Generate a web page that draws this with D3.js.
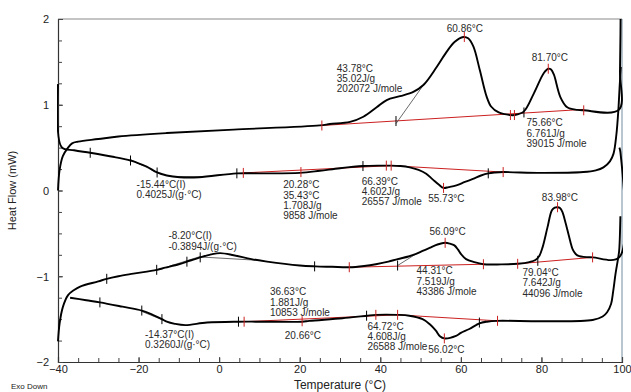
<!DOCTYPE html>
<html>
<head>
<meta charset="utf-8">
<script src="https://cdn.jsdelivr.net/npm/d3@7"></script>
<style>
  body { margin: 0; background: #fff; }
  svg text { font-family: Arial, "Liberation Sans", sans-serif; fill: #222; }
</style>
</head>
<body>
<svg id="chart" width="631" height="392"></svg>
<script>
// heating 1  [temperature, heat flow]
const heat1 = [
  [-40, 0], [-39.6, 0.24], [-38.8, 0.4], [-37.5, 0.5], [-36.5, 0.55], [-35, 0.57],
  [-30, 0.6], [-25, 0.63], [-13, 0.67], [3.6, 0.71], [25, 0.76], [27.5, 0.775],
  [32.5, 0.8], [35.8, 0.86], [39.1, 0.97], [41.6, 1.055], [44.9, 1.1], [48.2, 1.15],
  [50.7, 1.23], [54, 1.44], [56.5, 1.62], [58.5, 1.735], [60.6, 1.79], [61.8, 1.775],
  [63.1, 1.68], [64.7, 1.405], [66.4, 1.095], [67.5, 0.98], [69.4, 0.91], [72.3, 0.88],
  [73.3, 0.88], [75.6, 0.92], [78.1, 1.13], [80.6, 1.37], [81.7, 1.42], [82.4, 1.41],
  [83.1, 1.35], [84.7, 1.09], [86.4, 0.97], [88.9, 0.94], [90.5, 0.935], [99.2, 0.94],
  [99.5, 1.4], [99.7, 2.3]
];
// cooling 1
const cool1 = [
  [99.7, 1.44], [99.4, 1.2], [99.1, 0.94], [98.6, 0.65], [97.9, 0.43], [97, 0.34],
  [95.4, 0.27], [93.5, 0.235], [90.4, 0.215], [80, 0.205], [70.5, 0.215], [68.5, 0.21],
  [66.8, 0.2], [65, 0.175], [63, 0.135], [61, 0.1], [58.9, 0.06], [57, 0.04],
  [55.7, 0.03], [54.5, 0.07], [53, 0.13], [51.4, 0.195], [49.5, 0.24], [47.3, 0.27],
  [45, 0.285], [42.7, 0.29], [40, 0.29], [35.7, 0.285], [30, 0.26], [25, 0.23],
  [20, 0.205], [10, 0.2], [4.4, 0.2], [-5, 0.155], [-9.8, 0.155], [-13, 0.175],
  [-15.4, 0.21], [-18, 0.28], [-20.7, 0.33], [-22, 0.35], [-26, 0.39], [-32, 0.44],
  [-36, 0.47], [-39.1, 0.505], [-40, 1.24]
];
// heating 2
const heat2 = [
  [-40, -1.76], [-39.6, -1.55], [-38.8, -1.36], [-37.5, -1.22], [-36, -1.16],
  [-34.5, -1.12], [-30, -1.06], [-27.9, -1.03], [-25, -1.0], [-21.3, -0.97],
  [-15.5, -0.925], [-13.4, -0.9], [-10, -0.86], [-8, -0.83], [-4.7, -0.78],
  [-2, -0.745], [0.25, -0.73], [3.6, -0.755], [8, -0.8], [11.9, -0.83], [20, -0.875],
  [23.9, -0.885], [28, -0.89], [32.3, -0.895], [36, -0.88], [38.9, -0.86], [42, -0.83],
  [44.3, -0.8], [47, -0.77], [48.9, -0.74], [50.5, -0.705], [52.2, -0.67], [54.2, -0.63],
  [56.1, -0.61], [57.3, -0.62], [58.4, -0.64], [59.3, -0.69], [60, -0.74], [61.3, -0.8],
  [63.3, -0.835], [65.6, -0.86], [70, -0.862], [74.1, -0.855], [77, -0.835],
  [78.5, -0.81], [79.5, -0.76], [80.3, -0.66], [81.5, -0.43], [82.6, -0.23],
  [83.3, -0.2], [84, -0.195], [84.6, -0.205], [85.2, -0.25], [86, -0.38], [86.5, -0.47],
  [87.2, -0.6], [87.7, -0.68], [88.5, -0.74], [89.4, -0.765], [92.7, -0.78],
  [99.3, -0.78], [99.6, 0.45], [99.35, 0.5]
];
// cooling 2
const cool2 = [
  [99.6, -0.3], [99.3, -0.7], [99, -0.8], [98.4, -0.97], [97.8, -1.18], [97.3, -1.32],
  [96.3, -1.42], [95.2, -1.47], [92.7, -1.51], [80.3, -1.525], [69.1, -1.52],
  [66.5, -1.53], [64.6, -1.55], [62.1, -1.615], [60, -1.66], [58.8, -1.695],
  [55.9, -1.725], [54.8, -1.7], [53.8, -1.635], [52.3, -1.56], [50.5, -1.5],
  [47.2, -1.46], [44.3, -1.45], [38.9, -1.45], [36.6, -1.46], [30.6, -1.49],
  [22.4, -1.52], [20.6, -1.53], [10, -1.53], [4.8, -1.53], [-3, -1.54], [-8.4, -1.57],
  [-11, -1.555], [-13, -1.53], [-14.2, -1.5], [-16.5, -1.45], [-19.2, -1.4],
  [-24, -1.355], [-29.6, -1.305], [-33, -1.28], [-37, -1.25]
];
const curves = [heat1, cool1, heat2, cool2];

// integration baselines (red)
const baselines = [
  [[25.5, 0.758], [90.5, 0.946]],
  [[6, 0.205], [42.7, 0.29]],
  [[42.7, 0.29], [70.5, 0.215]],
  [[32.3, -0.895], [65.6, -0.86]],
  [[74.1, -0.855], [92.7, -0.78]],
  [[6.2, -1.53], [44.3, -1.45]],
  [[44.3, -1.45], [69.1, -1.52]]
];
// thin construction lines (onset tangents)
const tangents = [
  [[43.9, 0.78], [50.7, 1.23]],
  [[-22, 0.36], [-14.5, 0.19]],
  [[-12.5, 0.165], [-4, 0.16]],
  [[-15.5, -0.93], [-4.7, -0.77]],
  [[-4.7, -0.775], [10, -0.815]],
  [[44.3, -0.875], [48.7, -0.745]],
  [[-19.2, -1.41], [-14, -1.51]],
  [[63.8, -1.56], [66.2, -1.52]]
];
// small vertical markers on curves: [temperature, value, red?]
const markers = [
  [25.5, 0.758, 1], [43.9, 0.81, 0], [60.86, 1.79, 1], [72.3, 0.88, 1], [73.3, 0.88, 1],
  [75.66, 0.91, 0], [81.7, 1.42, 1], [90.5, 0.935, 1],
  [-32, 0.44, 0], [-22, 0.35, 0], [-15.4, 0.21, 0], [4.4, 0.2, 0], [6, 0.205, 1],
  [20.3, 0.215, 1], [35.7, 0.285, 0], [41.5, 0.29, 1], [42.7, 0.29, 1], [55.7, 0.03, 1],
  [66.8, 0.2, 0], [70.5, 0.215, 1],
  [-27.9, -1.03, 0], [-15.5, -0.925, 0], [-8, -0.83, 0], [-4.7, -0.78, 0],
  [23.7, -0.885, 0], [32.3, -0.895, 1], [44.3, -0.875, 0], [56.1, -0.61, 1],
  [65.6, -0.86, 1], [74.1, -0.855, 1], [79.1, -0.82, 0], [84, -0.195, 1], [92.7, -0.78, 1],
  [-29.6, -1.305, 0], [-19.2, -1.4, 0], [-14.2, -1.5, 0], [4.8, -1.53, 0],
  [6.2, -1.53, 1], [20.6, -1.525, 1], [36.6, -1.46, 0], [38.9, -1.45, 1],
  [44.3, -1.45, 1], [55.9, -1.725, 1], [64.6, -1.54, 0], [69.1, -1.52, 1]
];
// annotation blocks: [temperature, top value, lines, anchor]
const notes = [
  [61.0, 1.936, ['60.86°C'], 'middle'],
  [29.2, 1.478, ['43.78°C', '35.02J/g', '202072 J/mole']],
  [82.1, 1.60, ['81.70°C'], 'middle'],
  [76.3, 0.843, ['75.66°C', '6.761J/g', '39015 J/mole']],
  [-20.5, 0.125, ['-15.44°C(I)', '0.4025J/(g·°C)']],
  [15.9, 0.117, ['20.28°C', '35.43°C', '1.708J/g', '9858 J/mole']],
  [35.4, 0.163, ['66.39°C', '4.602J/g', '26557 J/mole']],
  [51.9, -0.038, ['55.73°C']],
  [-12.6, -0.475, ['-8.20°C(I)', '-0.3894J/(g·°C)']],
  [52.2, -0.428, ['56.09°C']],
  [80.1, -0.027, ['83.98°C']],
  [49.0, -0.886, ['44.31°C', '7.519J/g', '43386 J/mole']],
  [75.3, -0.906, ['79.04°C', '7.642J/g', '44096 J/mole']],
  [12.6, -1.128, ['36.63°C', '1.881J/g', '10853 J/mole']],
  [-18.4, -1.621, ['-14.37°C(I)', '0.3260J/(g·°C)']],
  [16.3, -1.644, ['20.66°C']],
  [36.8, -1.528, ['64.72°C', '4.608J/g', '26588 J/mole']],
  [51.9, -1.796, ['56.02°C']]
];
const xMajor = [-40, -20, 0, 20, 40, 60, 80, 100];
const yMajor = [-2, -1, 0, 1, 2];

const svg = d3.select('#chart');
const margin = { top: 19, right: 9, bottom: 30, left: 58 };
const width = 631, height = 392;

const x = d3.scaleLinear().domain([-40, 100]).range([margin.left, width - margin.right]);
const y = d3.scaleLinear().domain([-2, 2]).range([height - margin.bottom, margin.top]);

svg.append('defs').append('clipPath').attr('id', 'plot-clip')
  .append('rect')
  .attr('x', x(-40) - 1).attr('y', y(2))
  .attr('width', x(100) - x(-40) + 2).attr('height', y(-2) - y(2));

// frame: top and right in gray
svg.append('line')
  .attr('x1', x(-40)).attr('x2', x(100)).attr('y1', y(2)).attr('y2', y(2))
  .style('stroke', '#8a8a8a').style('stroke-width', 1.2);
svg.append('line')
  .attr('x1', x(100)).attr('x2', x(100)).attr('y1', y(2)).attr('y2', y(-2))
  .style('stroke', '#8aa0b0').style('stroke-width', 1.2);

// axes, ticks pointing inward
svg.append('g')
  .attr('transform', `translate(0,${y(-2)})`)
  .call(d3.axisBottom(x).tickValues(xMajor).tickSize(-5).tickPadding(3).tickFormat(d3.format('d')));
svg.append('g')
  .attr('transform', `translate(0,${y(-2)})`)
  .call(d3.axisBottom(x).tickValues(d3.range(-40, 101, 5)).tickSize(-4).tickFormat(''))
  .select('.domain').remove();

const yAxis = svg.append('g')
  .attr('transform', `translate(${x(-40)},0)`)
  .call(d3.axisLeft(y).tickValues(yMajor).tickSize(-5).tickPadding(9).tickFormat(d3.format('d')));
svg.append('g')
  .attr('transform', `translate(${x(-40)},0)`)
  .call(d3.axisLeft(y).tickValues(d3.range(-2, 2.01, 0.25)).tickSize(-4).tickFormat(''))
  .select('.domain').remove();

svg.selectAll('.domain').style('stroke', '#333').style('stroke-width', 1.2);
svg.selectAll('.tick line').style('stroke', '#444');
svg.selectAll('.tick text').style('font-size', '11px').style('fill', '#222');
yAxis.selectAll('.tick text').attr('dy', '0.35em');

// labels
svg.append('text')
  .attr('transform', `translate(16,${(y(2) + y(-2)) / 2}) rotate(-90)`)
  .attr('text-anchor', 'middle')
  .style('font-size', '11px')
  .text('Heat Flow (mW)');
svg.append('text')
  .attr('x', (x(-40) + x(100)) / 2).attr('y', 389)
  .attr('text-anchor', 'middle')
  .style('font-size', '12px')
  .text('Temperature (°C)');
svg.append('text')
  .attr('x', 11).attr('y', 389)
  .style('font-size', '8px')
  .text('Exo Down');

const plot = svg.append('g').attr('clip-path', 'url(#plot-clip)');

const line = d3.line()
  .x(d => x(d[0]))
  .y(d => y(d[1]))
  .curve(d3.curveCatmullRom.alpha(0.5));
const straight = d3.line().x(d => x(d[0])).y(d => y(d[1]));

plot.selectAll('.baseline')
  .data(baselines)
  .enter()
  .append('path')
  .attr('class', 'baseline')
  .attr('d', straight)
  .style('fill', 'none')
  .style('stroke', '#cc2020')
  .style('stroke-width', 1);

plot.selectAll('.tangent')
  .data(tangents)
  .enter()
  .append('path')
  .attr('class', 'tangent')
  .attr('d', straight)
  .style('fill', 'none')
  .style('stroke', '#444')
  .style('stroke-width', 0.8);

plot.selectAll('.curve')
  .data(curves)
  .enter()
  .append('path')
  .attr('class', 'curve')
  .attr('d', line)
  .style('fill', 'none')
  .style('stroke', '#000')
  .style('stroke-width', 1.9)
  .style('stroke-linejoin', 'round');

plot.selectAll('.marker')
  .data(markers)
  .enter()
  .append('line')
  .attr('class', 'marker')
  .attr('x1', d => x(d[0])).attr('x2', d => x(d[0]))
  .attr('y1', d => y(d[1]) - 5).attr('y2', d => y(d[1]) + 5)
  .style('stroke', d => d[2] ? '#cc2020' : '#000')
  .style('stroke-width', 1);

// annotations
notes.forEach(n => {
  const t = svg.append('text')
    .attr('x', x(n[0]))
    .attr('y', y(n[1]))
    .attr('text-anchor', n[3] || 'start')
    .style('font-size', '10px')
    .style('fill', '#2a2a2a');
  n[2].forEach((s, i) => {
    t.append('tspan')
      .attr('x', x(n[0]))
      .attr('dy', i === 0 ? '0.8em' : '1.03em')
      .text(s);
  });
});
</script>
</body>
</html>
